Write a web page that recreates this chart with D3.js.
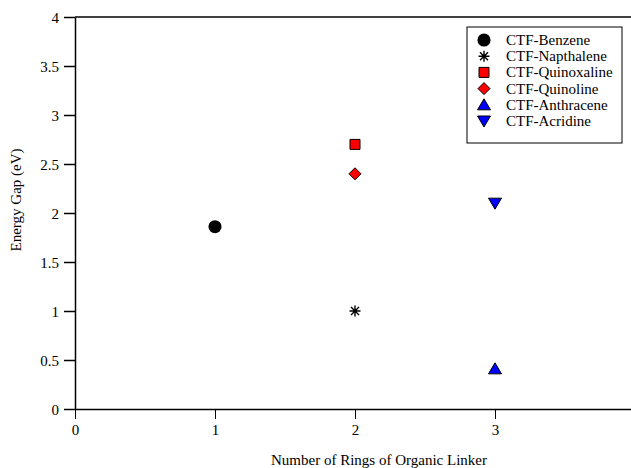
<!DOCTYPE html>
<html lang="en">
<head>
<meta charset="UTF-8">
<title>Energy Gap vs Rings</title>
<script src="https://d3js.org/d3.v7.min.js"></script>
<style>
  body { margin: 0; background: #fff; }
  svg { display: block; }
  svg text { font-family: "Liberation Serif", "Times New Roman", serif; fill: #000; }
</style>
</head>
<body>
<svg id="chart" width="631" height="468"></svg>
<script>
// data
const seriesNames = ['CTF-Benzene', 'CTF-Napthalene', 'CTF-Quinoxaline', 'CTF-Quinoline', 'CTF-Anthracene', 'CTF-Acridine'];
const rings = [1, 2, 2, 2, 3, 3];
const gaps = [1.86, 1.0, 2.7, 2.4, 0.41, 2.1];
const xTicks = [0, 1, 2, 3];
const yTicks = [0, 0.5, 1, 1.5, 2, 2.5, 3, 3.5, 4];

const markers = [
  { shape: 'circle', fill: '#000' },
  { shape: 'star', fill: '#000' },
  { shape: 'square', fill: '#ff0000' },
  { shape: 'diamond', fill: '#ff0000' },
  { shape: 'up', fill: '#0000ff' },
  { shape: 'down', fill: '#0000ff' }
];

const svg = d3.select('#chart');
const x = d3.scaleLinear().domain([0, 4]).range([75, 635]);
const y = d3.scaleLinear().domain([0, 4]).range([409, 17]);

function markerPath(shape) {
  switch (shape) {
    case 'circle': return d3.symbol(d3.symbolCircle, 135)();
    case 'square': return 'M-5,-5H5V5H-5Z';
    case 'diamond': return 'M0,-6L6,0L0,6L-6,0Z';
    case 'up': return 'M0,-6L6.5,5L-6.5,5Z';
    case 'down': return 'M0,6L6.5,-5L-6.5,-5Z';
    case 'star': return 'M-5.5,0H5.5M0,-5.5V5.5M-4,-4L4,4M-4,4L4,-4';
  }
}

function drawMarker(g, m) {
  if (m.shape === 'star') {
    g.append('path').attr('d', markerPath('star'))
      .attr('stroke', '#000').attr('stroke-width', 1.4).attr('fill', 'none');
  } else {
    g.append('path').attr('d', markerPath(m.shape))
      .attr('fill', m.fill)
      .attr('stroke', m.shape === 'circle' ? 'none' : '#000')
      .attr('stroke-width', 1);
  }
}

// top frame line (right edge falls outside the picture)
svg.append('line')
  .attr('x1', x(0)).attr('x2', 640).attr('y1', y(4)).attr('y2', y(4))
  .attr('stroke', '#000').attr('stroke-width', 1.5);

// y axis
const yAxis = svg.append('g')
  .attr('transform', `translate(${x(0)},0)`)
  .call(d3.axisLeft(y).tickValues(yTicks).tickSize(11).tickSizeOuter(0).tickFormat(d3.format('')).tickPadding(5));
yAxis.select('.domain').attr('stroke-width', 1.5);
yAxis.selectAll('.tick line').attr('stroke-width', 1.5);
yAxis.selectAll('text').attr('font-size', 15).attr('dy', '0.34em');

// x axis
const xAxis = svg.append('g')
  .attr('transform', `translate(0,${y(0)})`)
  .call(d3.axisBottom(x).tickValues(xTicks).tickSize(10).tickSizeOuter(0).tickFormat(d3.format('')).tickPadding(5));
xAxis.select('.domain').attr('stroke-width', 1.5);
xAxis.selectAll('.tick line').attr('stroke-width', 1);
xAxis.selectAll('text').attr('font-size', 15);

// axis titles
svg.append('text')
  .attr('x', 379).attr('y', 465)
  .attr('text-anchor', 'middle').attr('font-size', 15)
  .text('Number of Rings of Organic Linker');
svg.append('text')
  .attr('transform', 'translate(21,200) rotate(-90)')
  .attr('text-anchor', 'middle').attr('font-size', 15)
  .text('Energy Gap (eV)');

// points
seriesNames.forEach((name, i) => {
  const g = svg.append('g').attr('transform', `translate(${x(rings[i])},${y(gaps[i])})`);
  drawMarker(g, markers[i]);
});

// legend
const legend = svg.append('g');
legend.append('rect')
  .attr('x', 467).attr('y', 27).attr('width', 155).attr('height', 116)
  .attr('fill', '#fff').attr('stroke', '#000').attr('stroke-width', 1);
seriesNames.forEach((name, i) => {
  const ly = 40 + i * 16.2;
  const g = legend.append('g').attr('transform', `translate(484,${ly})`);
  drawMarker(g, markers[i]);
  legend.append('text')
    .attr('x', 506).attr('y', ly + 5)
    .attr('font-size', 15)
    .text(name);
});
</script>
</body>
</html>
